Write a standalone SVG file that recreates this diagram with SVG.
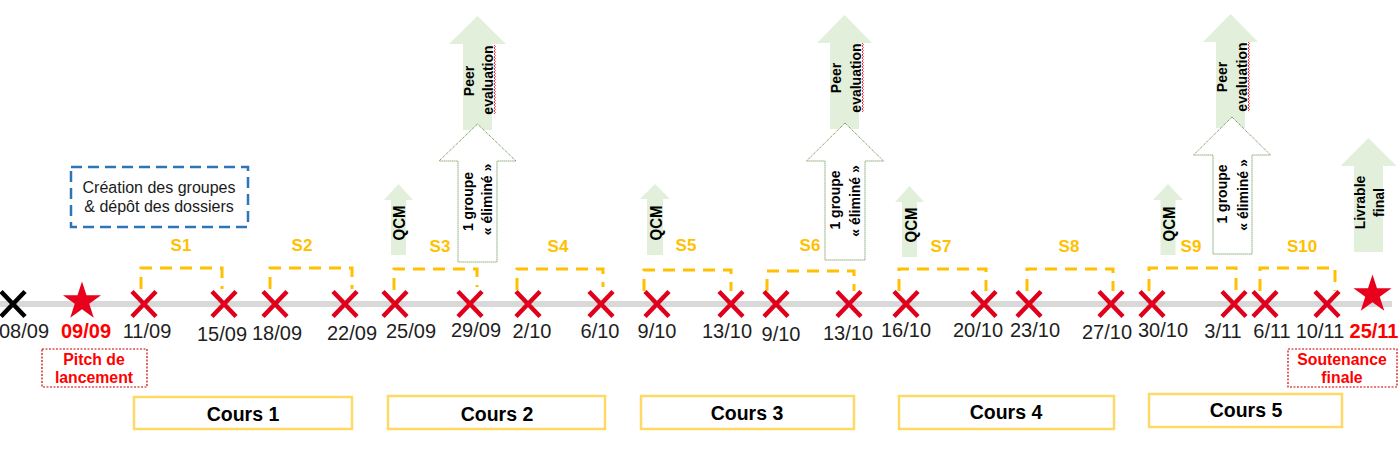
<svg xmlns="http://www.w3.org/2000/svg" xmlns:xlink="http://www.w3.org/1999/xlink" width="1399" height="459" viewBox="0 0 1399 459">
<style>
text{font-family:"Liberation Sans",Arial,sans-serif}
.date{font-size:20px;fill:#1e1e1e;text-anchor:middle}
.rdate{font-size:20px;fill:#FF0000;font-weight:bold;text-anchor:middle}
.s{font-size:17px;fill:#FFC000;font-weight:bold;text-anchor:middle}
.br{fill:none;stroke:#FFC000;stroke-width:3;stroke-dasharray:12 8}
.cours{fill:#fff;stroke:#FFD966;stroke-width:2.5}
.ct{font-size:19.5px;font-weight:bold;fill:#000;text-anchor:middle}
.ga{fill:#E2EFDA}
.wa{fill:#fff;stroke:#548235;stroke-width:1;stroke-dasharray:1 1}
.rt{font-size:14px;font-weight:bold;fill:#000;text-anchor:middle}
.q{font-size:16px;font-weight:bold;fill:#000;text-anchor:middle}
.red{font-size:15.8px;font-weight:bold;fill:#FF0000;text-anchor:middle}
.rbox{fill:#fff;stroke:#D00000;stroke-width:1.2;stroke-dasharray:2 1.5}
.sq{fill:none;stroke:#FF3030;stroke-width:1}
</style>
<defs>
<path id="x" d="M-12,-12.5L12,12.5M12,-12.5L-12,12.5"/>
<polygon id="star" points="0,-20 4.49,-6.18 19.02,-6.18 7.27,2.36 11.76,16.18 0,7.64 -11.76,16.18 -7.27,2.36 -19.02,-6.18 -4.49,-6.18"/>
<path id="sqz" d="M0,0l1.5,1.5l-1.5,1.5l1.5,1.5l-1.5,1.5l1.5,1.5l-1.5,1.5l1.5,1.5l-1.5,1.5l1.5,1.5l-1.5,1.5l1.5,1.5l-1.5,1.5l1.5,1.5l-1.5,1.5l1.5,1.5l-1.5,1.5l1.5,1.5l-1.5,1.5l1.5,1.5l-1.5,1.5l1.5,1.5l-1.5,1.5l1.5,1.5l-1.5,1.5l1.5,1.5l-1.5,1.5l1.5,1.5l-1.5,1.5l1.5,1.5l-1.5,1.5l1.5,1.5l-1.5,1.5l1.5,1.5l-1.5,1.5l1.5,1.5l-1.5,1.5l1.5,1.5l-1.5,1.5l1.5,1.5l-1.5,1.5l1.5,1.5l-1.5,1.5l1.5,1.5l-1.5,1.5l1.5,1.5l-1.5,1.5"/>
</defs>
<rect width="1399" height="459" fill="#fff"/>

<!-- connectors -->
<g id="connectors">
<rect id="timeline" x="0" y="301" width="1392" height="6" fill="#D9D9D9"/>
<path class="br" d="M141,289V268H222V289"/>
<path class="br" d="M270,289V268H352V289"/>
<path class="br" d="M394,290V269H477V287"/>
<path class="br" d="M517,290V269H603V287"/>
<path class="br" d="M644,291V270H731V291"/>
<path class="br" d="M767,291V271H854V291"/>
<path class="br" d="M899,291V269H986V291"/>
<path class="br" d="M1027,291V269H1113V291"/>
<path class="br" d="M1149,291V268H1236V291"/>
<path class="br" d="M1260,291V268H1335V291"/>
</g>

<!-- markers -->
<g id="markers">
<use xlink:href="#x" x="13" y="304" stroke="#000" stroke-width="4.5"/>
<g stroke="#E0001B" stroke-width="4.5">
<use xlink:href="#x" x="144" y="304"/>
<use xlink:href="#x" x="224" y="304"/>
<use xlink:href="#x" x="275" y="304"/>
<use xlink:href="#x" x="345" y="304"/>
<use xlink:href="#x" x="395" y="304"/>
<use xlink:href="#x" x="470" y="304"/>
<use xlink:href="#x" x="528" y="304"/>
<use xlink:href="#x" x="601" y="304"/>
<use xlink:href="#x" x="657" y="304"/>
<use xlink:href="#x" x="731" y="304"/>
<use xlink:href="#x" x="776" y="304"/>
<use xlink:href="#x" x="849" y="304"/>
<use xlink:href="#x" x="906" y="304"/>
<use xlink:href="#x" x="984" y="304"/>
<use xlink:href="#x" x="1029" y="304"/>
<use xlink:href="#x" x="1111" y="304"/>
<use xlink:href="#x" x="1152" y="304"/>
<use xlink:href="#x" x="1234" y="304"/>
<use xlink:href="#x" x="1265" y="304"/>
<use xlink:href="#x" x="1327" y="304"/>
</g>
<use xlink:href="#star" x="82" y="301.5" fill="#E8001C"/>
<use xlink:href="#star" x="1372.5" y="294.5" fill="#E8001C"/>
</g>

<!-- dates -->
<g id="dates">
<text class="date" x="24" y="338" fill="#000">08/09</text>
<text class="rdate" x="86" y="338">09/09</text>
<text class="date" x="147" y="338">11/09</text>
<text class="date" x="222" y="341">15/09</text>
<text class="date" x="277" y="340">18/09</text>
<text class="date" x="352" y="340">22/09</text>
<text class="date" x="411" y="338">25/09</text>
<text class="date" x="476" y="337">29/09</text>
<text class="date" x="532" y="338">2/10</text>
<text class="date" x="600" y="338">6/10</text>
<text class="date" x="657" y="338">9/10</text>
<text class="date" x="727" y="338">13/10</text>
<text class="date" x="781" y="341">9/10</text>
<text class="date" x="848" y="340">13/10</text>
<text class="date" x="906" y="337">16/10</text>
<text class="date" x="978" y="337">20/10</text>
<text class="date" x="1035" y="337">23/10</text>
<text class="date" x="1107" y="339">27/10</text>
<text class="date" x="1163" y="337">30/10</text>
<text class="date" x="1223" y="338">3/11</text>
<text class="date" x="1272" y="338">6/11</text>
<text class="date" x="1320" y="338">10/11</text>
<text class="rdate" x="1374" y="338">25/11</text>
</g>

<!-- session labels -->
<g id="sessions">
<text class="s" x="181" y="251">S1</text>
<text class="s" x="302" y="251">S2</text>
<text class="s" x="440" y="252">S3</text>
<text class="s" x="558" y="252">S4</text>
<text class="s" x="686" y="251">S5</text>
<text class="s" x="810" y="251">S6</text>
<text class="s" x="941" y="252">S7</text>
<text class="s" x="1069" y="252">S8</text>
<text class="s" x="1191" y="252">S9</text>
<text class="s" x="1302" y="252">S10</text>
</g>

<!-- creation box -->
<g id="creation">
<rect x="71" y="167" width="177" height="60" fill="#fff" stroke="#2E75B6" stroke-width="2.5" stroke-dasharray="11 6"/>
<text x="159" y="193" font-size="16" text-anchor="middle" fill="#1a1a1a">Création des groupes</text>
<text x="159" y="212" font-size="16" text-anchor="middle" fill="#1a1a1a">&amp; dépôt des dossiers</text>
</g>

<!-- pitch / soutenance -->
<g id="pitch">
<rect class="rbox" x="42" y="349" width="105" height="38"/>
<text class="red" x="94" y="365">Pitch de</text>
<text class="red" x="94" y="383">lancement</text>
</g>
<g id="soutenance">
<rect class="rbox" x="1288" y="349" width="109" height="38"/>
<text class="red" x="1342" y="365" font-size="15.2">Soutenance</text>
<text class="red" x="1342" y="383" font-size="15.2">finale</text>
</g>

<!-- QCM arrows -->
<g id="qcm1">
<polygon class="ga" points="398.5,184 413,200 406,200 406,255 391,255 391,200 384,200"/>
<text class="q" textLength="35" lengthAdjust="spacingAndGlyphs" transform="translate(405,223) rotate(-90)">QCM</text>
</g>
<g id="qcm2">
<polygon class="ga" points="655,184 670,199 663,199 663,255 647,255 647,199 640,199"/>
<text class="q" textLength="35" lengthAdjust="spacingAndGlyphs" transform="translate(662,223) rotate(-90)">QCM</text>
</g>
<g id="qcm3">
<polygon class="ga" points="909.5,186 924,202 917,202 917,257 902,257 902,202 895,202"/>
<text class="q" textLength="35" lengthAdjust="spacingAndGlyphs" transform="translate(916.5,225) rotate(-90)">QCM</text>
</g>
<g id="qcm4">
<polygon class="ga" points="1168,184 1183,200 1175.5,200 1175.5,255 1160.5,255 1160.5,200 1153,200"/>
<text class="q" textLength="35" lengthAdjust="spacingAndGlyphs" transform="translate(1175,224) rotate(-90)">QCM</text>
</g>

<!-- Peer evaluation + eliminated group arrows -->
<g id="peer1">
<polygon class="ga" points="477.5,16 506,44 492,44 492,130 463,130 463,44 449,44"/>
<text class="rt" transform="translate(474,81) rotate(-90)">Peer</text>
<text class="rt" transform="translate(493,80) rotate(-90)">evaluation</text>
<use xlink:href="#sqz" class="sq" x="494" y="45"/>
</g>
<g id="elim1">
<polygon class="wa" points="477.5,124 516,161 497,161 497,262 458,262 458,161 439,161"/>
<text class="rt" transform="translate(473,201.5) rotate(-90)">1 groupe</text>
<text class="rt" transform="translate(492,199.5) rotate(-90)">« éliminé »</text>
</g>
<g id="peer2">
<polygon class="ga" points="844.5,15 872,43 859,43 859,129 830,129 830,43 817,43"/>
<text class="rt" transform="translate(841,78) rotate(-90)">Peer</text>
<text class="rt" transform="translate(861,78) rotate(-90)">evaluation</text>
<use xlink:href="#sqz" class="sq" x="862" y="43"/>
</g>
<g id="elim2">
<polygon class="wa" points="845,123 883.5,161 865,161 865,260 825,260 825,161 806.5,161"/>
<text class="rt" transform="translate(840,200) rotate(-90)">1 groupe</text>
<text class="rt" transform="translate(860,201) rotate(-90)">« éliminé »</text>
</g>
<g id="peer3">
<polygon class="ga" points="1230.5,14 1258,42 1245,42 1245,128 1216,128 1216,42 1203,42"/>
<text class="rt" transform="translate(1227,77) rotate(-90)">Peer</text>
<text class="rt" transform="translate(1247,77) rotate(-90)">evaluation</text>
<use xlink:href="#sqz" class="sq" x="1248" y="42"/>
</g>
<g id="elim3">
<polygon class="wa" points="1232,117 1270.5,155 1252,155 1252,254 1213,254 1213,155 1193.5,155"/>
<text class="rt" transform="translate(1227,194) rotate(-90)">1 groupe</text>
<text class="rt" transform="translate(1248,195) rotate(-90)">« éliminé »</text>
</g>

<!-- Livrable final -->
<g id="livrable">
<polygon class="ga" points="1368.5,138 1396.5,166 1383,166 1383,252 1354,252 1354,166 1340.5,166"/>
<text class="rt" font-size="13.5" transform="translate(1364.5,202.5) rotate(-90)">Livrable</text>
<text class="rt" font-size="13.5" transform="translate(1383.5,202.5) rotate(-90)">final</text>
</g>

<!-- Cours boxes -->
<g id="cours1"><rect class="cours" x="134" y="397" width="218" height="32"/><text class="ct" x="243" y="421">Cours 1</text></g>
<g id="cours2"><rect class="cours" x="388" y="396" width="217" height="33"/><text class="ct" x="497" y="421">Cours 2</text></g>
<g id="cours3"><rect class="cours" x="641" y="396" width="213" height="33"/><text class="ct" x="747" y="420">Cours 3</text></g>
<g id="cours4"><rect class="cours" x="899" y="396" width="215" height="33"/><text class="ct" x="1006" y="419">Cours 4</text></g>
<g id="cours5"><rect class="cours" x="1149" y="394" width="193" height="33"/><text class="ct" x="1246" y="417">Cours 5</text></g>
</svg>
